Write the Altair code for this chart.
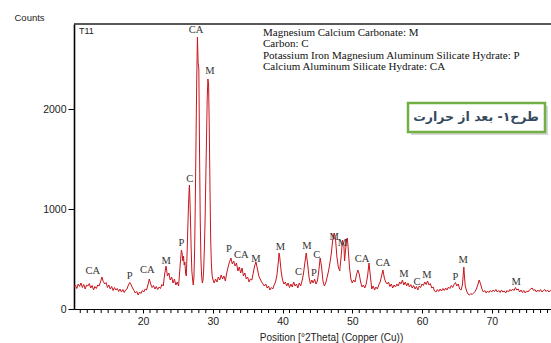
import altair as alt
import pandas as pd

two_theta = [10.1,10.3,10.5,10.7,10.9,11.1,11.3,11.5,11.7,11.9,12.1,12.3,12.5,12.7,12.9,13.1,13.3,13.5,13.7,13.9,
14.1,14.3,14.5,14.7,14.9,15.1,15.3,15.5,15.7,15.9,16.1,16.3,16.5,16.7,16.9,17.1,17.3,17.5,17.7,17.9,
18.1,18.3,18.5,18.7,18.9,19.1,19.3,19.5,19.7,19.9,20.1,20.3,20.5,20.7,20.9,21.1,21.3,21.5,21.7,21.9,
22.1,22.3,22.5,22.7,22.9,23.1,23.3,23.5,23.7,23.9,24.1,24.3,24.5,24.7,24.9,25.1,25.3,25.5,25.6,25.7,
25.8,25.9,26.0,26.1,26.2,26.3,26.4,26.5,26.6,26.65,26.7,26.8,26.9,27.0,27.1,27.2,27.3,27.4,27.5,27.6,
27.7,27.8,27.9,28.0,28.1,28.2,28.3,28.4,28.5,28.6,28.7,28.8,28.9,29.0,29.1,29.2,29.3,29.4,29.5,29.6,
29.7,29.8,29.9,30.0,30.2,30.4,30.6,30.8,31.0,31.2,31.4,31.6,31.8,32.0,32.2,32.4,32.6,32.8,33.0,33.2,
33.4,33.6,33.8,34.0,34.2,34.4,34.6,34.8,35.0,35.2,35.4,35.6,35.8,36.0,36.2,36.4,36.6,36.8,37.0,37.2,
37.4,37.6,37.8,38.0,38.2,38.4,38.6,38.8,39.0,39.2,39.4,39.5,39.6,39.8,40.0,40.2,40.4,40.6,40.8,41.0,
41.2,41.4,41.6,41.8,42.0,42.2,42.4,42.6,42.8,43.0,43.2,43.4,43.6,43.8,44.0,44.2,44.4,44.6,44.8,45.0,
45.2,45.4,45.6,45.8,46.0,46.2,46.4,46.6,46.8,47.0,47.2,47.4,47.6,47.8,48.0,48.2,48.4,48.6,48.8,48.9,
49.0,49.2,49.3,49.4,49.6,49.8,50.0,50.2,50.4,50.6,50.8,51.0,51.2,51.4,51.6,51.8,52.0,52.2,52.4,52.6,
52.8,53.0,53.2,53.4,53.6,53.8,54.0,54.2,54.4,54.6,54.8,55.0,55.2,55.4,55.6,55.8,56.0,56.2,56.4,56.6,
56.8,57.0,57.2,57.4,57.6,57.8,58.0,58.2,58.4,58.6,58.8,59.0,59.2,59.4,59.6,59.8,60.0,60.2,60.4,60.6,
60.8,61.0,61.2,61.4,61.6,61.8,62.0,62.2,62.4,62.6,62.8,63.0,63.2,63.4,63.6,63.8,64.0,64.2,64.4,64.6,
64.8,65.0,65.2,65.4,65.6,65.8,66.0,66.1,66.2,66.4,66.6,66.8,67.0,67.2,67.4,67.6,67.8,68.0,68.2,68.4,
68.6,68.8,69.0,69.2,69.4,69.6,69.8,70.0,70.2,70.4,70.6,70.8,71.0,71.2,71.4,71.6,71.8,72.0,72.2,72.4,
72.6,72.8,73.0,73.2,73.4,73.6,73.8,74.0,74.2,74.4,74.6,74.8,75.0,75.2,75.4,75.6,75.8,76.0,76.2,76.4,
76.6,76.8,77.0,77.2,77.4,77.6,77.8,78.0,78.2,78.4,78.6]

counts = [220,240,205,250,225,260,215,245,200,240,230,255,210,235,190,225,205,240,230,270,
320,275,250,265,215,240,200,225,185,215,190,205,175,200,170,195,165,190,200,240,
265,240,210,185,160,175,140,170,155,185,170,200,190,240,300,250,215,235,200,225,
195,220,205,245,230,350,430,330,360,290,320,260,300,240,270,230,420,590,560,480,
530,440,470,360,330,520,760,1000,1180,1240,1150,900,600,380,300,240,320,600,1100,1700,
2300,2720,2460,2400,1600,900,500,330,260,290,400,620,900,1300,1700,2100,2300,2250,1800,1200,
700,450,340,300,260,300,270,320,290,340,300,330,280,360,420,470,510,450,480,430,
460,380,420,360,410,330,360,300,320,270,300,290,360,430,470,400,330,300,270,250,
230,250,210,230,190,215,200,240,270,340,470,560,520,380,290,250,270,230,260,215,
250,220,270,230,250,210,260,230,280,350,460,560,450,320,250,290,260,300,250,280,
380,510,420,280,230,260,320,380,460,560,690,760,700,520,420,380,520,690,640,480,
560,700,710,620,420,300,260,290,270,340,390,350,270,220,240,210,250,330,460,330,
200,230,190,220,200,240,270,330,390,310,270,250,270,225,250,210,240,220,250,230,
270,250,290,240,270,230,260,220,245,210,235,200,225,190,230,215,250,235,270,245,
280,240,255,210,220,180,170,195,175,200,180,205,185,210,190,220,205,235,215,245,
265,230,250,200,190,240,420,320,230,180,150,140,155,145,160,175,200,240,290,250,
200,170,185,160,180,165,185,170,190,175,195,170,185,165,190,170,180,160,185,170,
195,180,200,185,215,190,200,170,190,165,185,160,180,170,190,200,210,185,195,170,
190,175,195,170,185,195,175,190,170,185,175]

peak_text = ["CA","P","CA","M","P","C","CA","M","P","CA","M","M","C","M","P","C","M","M",
             "CA","CA","M","C","M","P","M","M"]
peak_x = [12.8,18.1,20.6,23.3,25.5,26.7,27.6,29.6,32.3,34.1,36.2,39.7,42.3,43.5,44.5,44.9,47.4,48.6,
          51.4,54.4,57.4,59.3,60.7,64.8,65.9,73.5]
peak_y = [380,330,390,480,660,1300,2790,2380,600,540,500,620,370,630,360,540,720,660,
          500,460,350,270,340,320,490,270]

major_ticks = [20, 30, 40, 50, 60, 70]
minor_ticks = [v for v in range(11, 79) if v % 10 != 0]

legend_lines = ["Magnesium Calcium Carbonate: M",
                "Carbon: C",
                "Potassium Iron Magnesium Aluminum Silicate Hydrate: P",
                "Calcium Aluminum Silicate Hydrate: CA"]
legend_y = [9, 20, 32, 43]

note_text = "طرح۱- بعد از حرارت"

W, H = 477, 285
xs = alt.Scale(domain=[10.1, 78.5], nice=False, zero=False)
ys = alt.Scale(domain=[0, 2850], nice=False)

df = pd.DataFrame({"pos": two_theta, "cnt": counts})
pk = pd.DataFrame({"t": peak_text, "pos": peak_x, "cnt": peak_y})
mt = pd.DataFrame({"pos": minor_ticks})
one = pd.DataFrame({"a": [0]})

line = alt.Chart(df).mark_line(color="#c8161d", strokeWidth=1, clip=True).encode(
    x=alt.X("pos:Q", scale=xs,
            axis=alt.Axis(values=major_ticks, format="d",
                          grid=False, tickSize=4, tickColor="#000", domainColor="#000",
                          domainWidth=1.2, labelFont="Liberation Sans", labelFontSize=10.5,
                          labelColor="#222", labelPadding=3,
                          title="Position [°2Theta] (Copper (Cu))",
                          titleFont="Liberation Sans", titleFontSize=10, titleFontWeight="normal",
                          titleColor="#222", titleX=257, titleY=28, titleBaseline="middle")),
    y=alt.Y("cnt:Q", scale=ys,
            axis=alt.Axis(values=[0, 1000, 2000], format="d", grid=False, tickSize=6,
                          tickColor="#000", domainColor="#000", domainWidth=1.6,
                          labelFont="Liberation Sans", labelFontSize=10.5, labelColor="#222",
                          labelPadding=2,
                          title="Counts", titleAngle=0, titleAlign="left", titleX=-60, titleY=-7,
                          titleBaseline="middle", titleFont="Liberation Sans", titleFontSize=9.5,
                          titleFontWeight="normal", titleColor="#222")),
)

minor = alt.Chart(mt).mark_rule(color="#000", strokeWidth=1).encode(
    x=alt.X("pos:Q", scale=xs), y=alt.value(H), y2=alt.value(H + 4))

labels = alt.Chart(pk).mark_text(font="Liberation Serif", fontSize=10.5, color="#333",
                                 baseline="middle", align="center").encode(
    x=alt.X("pos:Q", scale=xs), y=alt.Y("cnt:Q", scale=ys), text="t:N")

top_rule = alt.Chart(one).mark_rule(color="#222", strokeWidth=1.5).encode(
    x=alt.value(0), x2=alt.value(W), y=alt.value(0))

t11 = alt.Chart(one).mark_text(text="T11", font="Liberation Sans", fontSize=9, color="#222",
                               align="left", baseline="middle").encode(
    x=alt.value(5), y=alt.value(7))

legend_layers = [
    alt.Chart(one).mark_text(text=txt, font="Liberation Serif", fontSize=11, color="#111",
                             align="left", baseline="middle").encode(
        x=alt.value(189), y=alt.value(yy))
    for txt, yy in zip(legend_lines, legend_y)
]

shadow = alt.Chart(one).mark_rect(color="#bbbbbb", opacity=0.6).encode(
    x=alt.value(337), x2=alt.value(474), y=alt.value(82), y2=alt.value(111))
box = alt.Chart(one).mark_rect(fill="white", stroke="#72b043", strokeWidth=2.5).encode(
    x=alt.value(334), x2=alt.value(471), y=alt.value(79), y2=alt.value(108))
note = alt.Chart(one).mark_text(text=note_text, font="DejaVu Sans", fontSize=12.5,
                                fontWeight="bold", color="#34495e",
                                align="center", baseline="middle").encode(
    x=alt.value(402), y=alt.value(93))

chart = alt.layer(line, minor, labels, top_rule, t11, *legend_layers, shadow, box, note).properties(
    width=W, height=H,
    padding={"left": 74, "top": 24, "right": 0, "bottom": 34},
    autosize="none",
    background="white",
).configure_view(stroke=None)

chart.save("out.html", embed_options={"renderer": "svg", "actions": False})
